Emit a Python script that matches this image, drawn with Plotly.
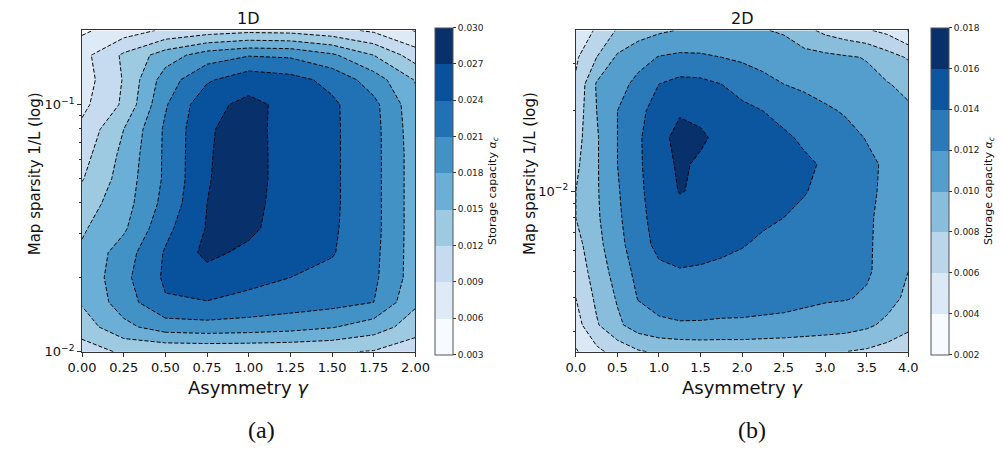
import plotly.graph_objects as go

# ---------------- data : 1D ----------------
gamma_1d = [0.0, 0.25, 0.5, 0.75, 1.0, 1.25, 1.5, 1.75, 2.0]
sparsity_1d = [0.01, 0.01259, 0.01585, 0.01995, 0.02512, 0.03162, 0.03981,
               0.05012, 0.0631, 0.07943, 0.1, 0.1259, 0.1585, 0.1995]
capacity_1d = [
    [0.0105, 0.0125, 0.0125, 0.0126, 0.0126, 0.0125, 0.0123, 0.0118, 0.0100],
    [0.0135, 0.0172, 0.0195, 0.0199, 0.0196, 0.0191, 0.0182, 0.0165, 0.0135],
    [0.0153, 0.0195, 0.0237, 0.0239, 0.0232, 0.0225, 0.0220, 0.0210, 0.0155],
    [0.0155, 0.0202, 0.0245, 0.0257, 0.0248, 0.0240, 0.0232, 0.0216, 0.0165],
    [0.0155, 0.0195, 0.0243, 0.0278, 0.0262, 0.0250, 0.0242, 0.0218, 0.0165],
    [0.0146, 0.0175, 0.0232, 0.0272, 0.0278, 0.0250, 0.0244, 0.0220, 0.0165],
    [0.0135, 0.0167, 0.0220, 0.0270, 0.0284, 0.0249, 0.0245, 0.0220, 0.0165],
    [0.0118, 0.0163, 0.0215, 0.0268, 0.0288, 0.0249, 0.0245, 0.0220, 0.0165],
    [0.0108, 0.0158, 0.0215, 0.0267, 0.0288, 0.0249, 0.0245, 0.0220, 0.0165],
    [0.0097, 0.0150, 0.0215, 0.0266, 0.0286, 0.0250, 0.0245, 0.0220, 0.0163],
    [0.0082, 0.0125, 0.0207, 0.0262, 0.0277, 0.0262, 0.0245, 0.0218, 0.0160],
    [0.0075, 0.0122, 0.0195, 0.0236, 0.0258, 0.0250, 0.0232, 0.0195, 0.0148],
    [0.0080, 0.0125, 0.0165, 0.0195, 0.0208, 0.0205, 0.0185, 0.0150, 0.0105],
    [0.0055, 0.0075, 0.0095, 0.0105, 0.0112, 0.0110, 0.0100, 0.0085, 0.0058],
]
levels_1d = [0.003, 0.006, 0.009, 0.012, 0.015, 0.018, 0.021, 0.024, 0.027, 0.030]
xticks_1d = [0.0, 0.25, 0.5, 0.75, 1.0, 1.25, 1.5, 1.75, 2.0]
xticktext_1d = ["0.00", "0.25", "0.50", "0.75", "1.00", "1.25", "1.50", "1.75", "2.00"]

# ---------------- data : 2D ----------------
gamma_2d = [0.0, 0.25, 0.5, 0.75, 1.0, 1.25, 1.5, 1.75, 2.0, 2.25, 2.5, 2.75,
            3.0, 3.25, 3.5, 3.75, 4.0]
sparsity_2d = [0.002512, 0.003162, 0.003981, 0.005012, 0.00631, 0.007943, 0.01,
               0.01259, 0.01585, 0.01995, 0.02512, 0.03162, 0.03981]
capacity_2d = [
    [0.0038, 0.0055, 0.0068, 0.0078, 0.0083, 0.0085, 0.0086, 0.0086, 0.0086, 0.0085, 0.0084, 0.0083, 0.0082, 0.0080, 0.0077, 0.0072, 0.0066],
    [0.0052, 0.0078, 0.0096, 0.0110, 0.0116, 0.0118, 0.0118, 0.0117, 0.0117, 0.0116, 0.0115, 0.0113, 0.0111, 0.0109, 0.0104, 0.0095, 0.0085],
    [0.0060, 0.0084, 0.0102, 0.0121, 0.0128, 0.0131, 0.0130, 0.0129, 0.0128, 0.0127, 0.0126, 0.0124, 0.0122, 0.0121, 0.0118, 0.0108, 0.0095],
    [0.0068, 0.0089, 0.0108, 0.0126, 0.0136, 0.0139, 0.0138, 0.0136, 0.0134, 0.0132, 0.0130, 0.0128, 0.0126, 0.0124, 0.0122, 0.0114, 0.0100],
    [0.0073, 0.0094, 0.0113, 0.0132, 0.0145, 0.0147, 0.0146, 0.0144, 0.0141, 0.0137, 0.0134, 0.0131, 0.0128, 0.0125, 0.0122, 0.0115, 0.0104],
    [0.0080, 0.0097, 0.0116, 0.0135, 0.0147, 0.0152, 0.0152, 0.0150, 0.0146, 0.0143, 0.0140, 0.0136, 0.0131, 0.0127, 0.0122, 0.0116, 0.0109],
    [0.0080, 0.0098, 0.0118, 0.0136, 0.0150, 0.0161, 0.0157, 0.0152, 0.0150, 0.0148, 0.0145, 0.0141, 0.0135, 0.0129, 0.0123, 0.0117, 0.0110],
    [0.0076, 0.0098, 0.0120, 0.0137, 0.0152, 0.0163, 0.0157, 0.0154, 0.0152, 0.0150, 0.0147, 0.0143, 0.0138, 0.0131, 0.0124, 0.0117, 0.0109],
    [0.0072, 0.0098, 0.0120, 0.0137, 0.0154, 0.0166, 0.0163, 0.0155, 0.0150, 0.0147, 0.0143, 0.0137, 0.0132, 0.0126, 0.0119, 0.0113, 0.0107],
    [0.0068, 0.0100, 0.0120, 0.0135, 0.0148, 0.0158, 0.0155, 0.0150, 0.0145, 0.0140, 0.0134, 0.0129, 0.0123, 0.0118, 0.0113, 0.0108, 0.0103],
    [0.0063, 0.0102, 0.0112, 0.0126, 0.0140, 0.0146, 0.0145, 0.0140, 0.0132, 0.0126, 0.0120, 0.0116, 0.0112, 0.0108, 0.0105, 0.0101, 0.0095],
    [0.0057, 0.0080, 0.0103, 0.0112, 0.0121, 0.0124, 0.0123, 0.0120, 0.0117, 0.0113, 0.0110, 0.0107, 0.0105, 0.0102, 0.0099, 0.0088, 0.0078],
    [0.0045, 0.0063, 0.0082, 0.0092, 0.0097, 0.0101, 0.0103, 0.0103, 0.0102, 0.0101, 0.0098, 0.0086, 0.0075, 0.0068, 0.0062, 0.0055, 0.0039],
]
levels_2d = [0.002, 0.004, 0.006, 0.008, 0.010, 0.012, 0.014, 0.016, 0.018]
xticks_2d = [0.0, 0.5, 1.0, 1.5, 2.0, 2.5, 3.0, 3.5, 4.0]
xticktext_2d = ["0.0", "0.5", "1.0", "1.5", "2.0", "2.5", "3.0", "3.5", "4.0"]

# matplotlib "Blues" band colours
blues_9 = ["#f7fbff", "#deebf7", "#c6dbef", "#9ecae1", "#6baed6",
           "#4292c6", "#2171b5", "#08519c", "#08306b"]
blues_8 = ["#f7fbff", "#dbe9f6", "#bbd6eb", "#88bedc", "#549ecd",
           "#2a7aba", "#0c56a0", "#08306b"]

W, H = 1003, 453
FONT = "DejaVu Sans"


def stepped(colors):
    n = len(colors)
    cs = []
    for k, c in enumerate(colors):
        cs.append([k / n, c])
        cs.append([(k + 1) / n, c])
    return cs


def px_x(p):
    return p / W


def px_y(p):
    return 1 - p / H


fig = go.Figure()


def add_panel(x, y, z, levels, colors, xa, ya, cb_left):
    start, end = levels[0], levels[-1]
    size = round(levels[1] - levels[0], 6)
    fig.add_trace(go.Contour(
        x=x, y=y, z=z, xaxis=xa, yaxis=ya,
        autocontour=False,
        contours=dict(start=start, end=end, size=size, coloring="fill",
                      showlines=False),
        zmin=start, zmax=end,
        colorscale=stepped(colors),
        line=dict(width=0, smoothing=0),
        hoverinfo="skip",
        colorbar=dict(
            x=px_x(cb_left), xanchor="left", xpad=0,
            y=px_y(194.5), yanchor="middle", ypad=0,
            len=327, lenmode="pixels", thickness=18, thicknessmode="pixels",
            outlinewidth=1, outlinecolor="#555",
            tickmode="array", tickvals=levels,
            ticktext=["%.3f" % v for v in levels],
            ticks="outside", ticklen=3, tickwidth=1, tickcolor="#333",
            tickfont=dict(family=FONT, size=9, color="#222"),
            title=dict(text="Storage capacity <i>α</i><sub><i>c</i></sub>",
                       side="right", font=dict(family=FONT, size=11, color="#111")),
        ),
    ))
    fig.add_trace(go.Contour(
        x=x, y=y, z=z, xaxis=xa, yaxis=ya,
        autocontour=False,
        contours=dict(start=start, end=end, size=size, coloring="none",
                      showlines=True),
        line=dict(color="black", width=1, dash="4px,2px", smoothing=0),
        showscale=False, hoverinfo="skip",
    ))


add_panel(gamma_1d, sparsity_1d, capacity_1d, levels_1d, blues_9, "x", "y", 433)
add_panel(gamma_2d, sparsity_2d, capacity_2d, levels_2d, blues_8, "x2", "y2", 943)

axis_common = dict(showline=True, mirror=True, linecolor="#333", linewidth=1,
                   ticks="outside", ticklen=4, tickwidth=1, tickcolor="#333",
                   showgrid=False, zeroline=False,
                   tickfont=dict(family=FONT, size=13, color="#111"))

minor_1d = [0.02, 0.03, 0.04, 0.05, 0.06, 0.07, 0.08, 0.09, 0.2]
minor_2d = [0.003, 0.004, 0.005, 0.006, 0.007, 0.008, 0.009, 0.02, 0.03, 0.04]

fig.update_layout(
    width=W, height=H,
    margin=dict(l=0, r=0, t=0, b=0),
    paper_bgcolor="white", plot_bgcolor="white",
    showlegend=False,
    xaxis=dict(domain=[px_x(70), px_x(413)], range=[0, 2], anchor="y",
               tickmode="array", tickvals=xticks_1d, ticktext=xticktext_1d,
               **axis_common),
    yaxis=dict(domain=[px_y(358), px_y(31)], type="log",
               range=[-2, -0.7], anchor="x",
               tickmode="array", tickvals=[0.01, 0.1],
               ticktext=["10<sup>−2</sup>", "10<sup>−1</sup>"],
               minor=dict(tickmode="array", tickvals=minor_1d, ticks="outside",
                          ticklen=2, tickwidth=1, tickcolor="#333"),
               **axis_common),
    xaxis2=dict(domain=[px_x(578), px_x(920)], range=[0, 4], anchor="y2",
                tickmode="array", tickvals=xticks_2d, ticktext=xticktext_2d,
                **axis_common),
    yaxis2=dict(domain=[px_y(358), px_y(31)], type="log",
                range=[-2.6, -1.4], anchor="x2",
                tickmode="array", tickvals=[0.01],
                ticktext=["10<sup>−2</sup>"],
                minor=dict(tickmode="array", tickvals=minor_2d, ticks="outside",
                           ticklen=2, tickwidth=1, tickcolor="#333"),
                **axis_common),
)

ann = []


def text(x, y, s, size, rot=0, family=FONT):
    ann.append(dict(x=px_x(x), y=px_y(y), xref="paper", yref="paper", text=s,
                    showarrow=False, xanchor="center", yanchor="middle",
                    borderpad=0, textangle=rot,
                    font=dict(family=family, size=size, color="#111")))


text(241.5, 19, "1D", 16)
text(749, 19, "2D", 16)
text(241.5, 394, "Asymmetry <i>γ</i>", 18)
text(749, 394, "Asymmetry <i>γ</i>", 18)
text(21, 177, "Map sparsity 1/L (log)", 15, rot=-90)
text(531, 177, "Map sparsity 1/L (log)", 15, rot=-90)
text(255, 438, "(a)", 24, family="Liberation Serif")
text(759, 438, "(b)", 24, family="Liberation Serif")
fig.update_layout(annotations=ann)

fig.write_html("out.html", config=dict(displayModeBar=False))
